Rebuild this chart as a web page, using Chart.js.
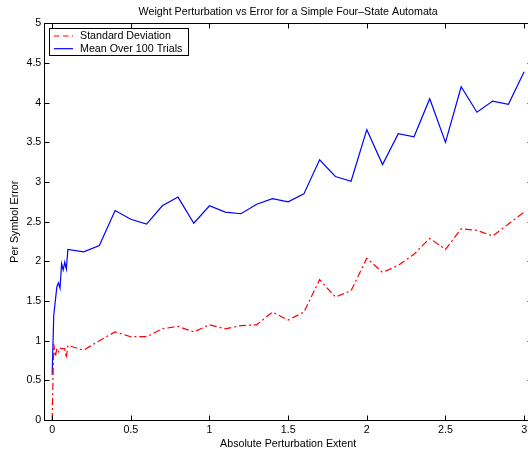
<!DOCTYPE html>
<html>
<head>
<meta charset="utf-8">
<script src="https://cdn.jsdelivr.net/npm/chart.js@4.4.1/dist/chart.umd.min.js"></script>
<style>
html, body { margin: 0; padding: 0; background: #fff; }
#marco { width: 528px; height: 449px; overflow: hidden; }
canvas { display: block; }
</style>
</head>
<body>
<div id="marco"><canvas id="chart" width="536" height="449"></canvas></div>
<script>
// Valores
const perturbacion = [0, 0.01, 0.02, 0.03, 0.04, 0.05, 0.06, 0.07, 0.08, 0.09, 0.1,
    0.2, 0.3, 0.4, 0.5, 0.6, 0.7, 0.8, 0.9, 1.0,
    1.1, 1.2, 1.3, 1.4, 1.5, 1.6, 1.7, 1.8, 1.9, 2.0,
    2.1, 2.2, 2.3, 2.4, 2.5, 2.6, 2.7, 2.8, 2.9, 3.0];
const errorMedio = [0.57, 1.32, 1.50, 1.68, 1.73, 1.66, 1.97, 1.89, 1.99, 1.90, 2.15,
    2.12, 2.20, 2.64, 2.53, 2.47, 2.70, 2.81, 2.48, 2.70,
    2.62, 2.60, 2.72, 2.79, 2.75, 2.85, 3.28, 3.07, 3.01, 3.66,
    3.22, 3.61, 3.57, 4.05, 3.50, 4.20, 3.88, 4.02, 3.98, 4.39];
const desviacion = [0.0, 0.96, 0.80, 0.90, 0.86, 0.91, 0.90, 0.90, 0.90, 0.78, 0.94,
    0.88, 1.00, 1.11, 1.05, 1.05, 1.15, 1.18, 1.11, 1.20,
    1.15, 1.19, 1.20, 1.36, 1.26, 1.36, 1.77, 1.55, 1.63, 2.04,
    1.86, 1.95, 2.09, 2.29, 2.15, 2.41, 2.39, 2.32, 2.47, 2.62];
const ticksX = [0, 0.5, 1, 1.5, 2, 2.5, 3];
const ticksY = [0, 0.5, 1, 1.5, 2, 2.5, 3, 3.5, 4, 4.5, 5];

const fuente = "'Liberation Sans', Arial, Helvetica, sans-serif";
const tamano = 10.7;
const ctx = document.getElementById('chart');

// Caja de ejes con marcas hacia dentro y leyenda (estilo MATLAB)
const marcoEjes = {
    id: 'marcoEjes',
    afterDatasetsDraw(chart) {
        const { ctx: c, chartArea: a, scales: { x, y } } = chart;
        const l = Math.floor(a.left) + 0.5, r = Math.floor(a.right) + 0.5;
        const t = Math.floor(a.top) + 0.5, b = Math.floor(a.bottom) + 0.5;
        c.save();
        c.strokeStyle = '#000';
        c.lineWidth = 1;
        c.setLineDash([]);
        c.strokeRect(l, t, r - l, b - t);
        c.beginPath();
        ticksX.forEach(v => {
            const px = Math.round(x.getPixelForValue(v)) + 0.5;
            c.moveTo(px, b); c.lineTo(px, b - 5);
            c.moveTo(px, t); c.lineTo(px, t + 5);
        });
        ticksY.forEach(v => {
            const py = Math.round(y.getPixelForValue(v)) + 0.5;
            c.moveTo(l, py); c.lineTo(l + 5, py);
            c.moveTo(r, py); c.lineTo(r - 5, py);
        });
        c.stroke();

        // leyenda
        c.font = tamano + 'px ' + fuente;
        const sets = chart.data.datasets;
        const anchoTexto = Math.max(...sets.map(d => c.measureText(d.label).width));
        const lx = l + 5, ly = t + 5;
        const w = Math.round(30.5 + anchoTexto + 6), h = 27;
        c.fillStyle = '#fff';
        c.fillRect(lx, ly, w, h);
        c.strokeRect(lx, ly, w, h);
        sets.forEach((d, i) => {
            const yy = ly + 7.5 + i * 12.7;
            c.strokeStyle = d.borderColor;
            c.lineWidth = d.borderWidth;
            c.setLineDash(d.borderDash ? [5.5, 3.5] : []);
            c.beginPath();
            c.moveTo(lx + 4.5, yy);
            c.lineTo(lx + 23.5, yy);
            c.stroke();
            c.fillStyle = '#000';
            c.textBaseline = 'middle';
            c.fillText(d.label, lx + 30.5, yy + 0.5);
        });
        c.restore();
    }
};

new Chart(ctx, {
    type: 'line',
    data: {
        datasets: [{
            label: 'Standard Deviation',
            data: perturbacion.map((v, i) => ({ x: v, y: desviacion[i] })),
            borderColor: '#ff0000',
            borderWidth: 1.2,
            borderDash: [7, 3, 2, 3],
            pointRadius: 0,
            tension: 0,
            fill: false
        }, {
            label: 'Mean Over 100 Trials',
            data: perturbacion.map((v, i) => ({ x: v, y: errorMedio[i] })),
            borderColor: '#0000ff',
            borderWidth: 1.2,
            pointRadius: 0,
            tension: 0,
            fill: false
        }]
    },
    options: {
        responsive: false,
        animation: false,
        layout: { padding: { left: 0, right: 4, top: 0, bottom: 0 } },
        plugins: {
            legend: { display: false },
            tooltip: { enabled: false },
            title: {
                display: true,
                fullSize: false,
                text: 'Weight Perturbation vs Error for a Simple Four\u2013State Automata',
                color: '#000',
                font: { family: fuente, size: tamano, weight: 'normal' },
                padding: { top: 6, bottom: 4.5 }
            }
        },
        scales: {
            x: {
                type: 'linear',
                min: -0.05,
                max: 3.05,
                afterBuildTicks: s => { s.ticks = ticksX.map(v => ({ value: v })); },
                afterFit: s => { s.height = 29; },
                grid: { display: false, drawTicks: false },
                border: { display: false },
                ticks: {
                    color: '#000',
                    font: { family: fuente, size: tamano },
                    padding: 4,
                    maxRotation: 0,
                    autoSkip: false,
                    callback: v => String(v)
                },
                title: {
                    display: true,
                    text: 'Absolute Perturbation Extent',
                    color: '#000',
                    font: { family: fuente, size: tamano, lineHeight: 1 },
                    padding: 0
                }
            },
            y: {
                min: 0,
                max: 5,
                afterBuildTicks: s => { s.ticks = ticksY.map(v => ({ value: v })); },
                afterFit: s => { s.width = 44.3; },
                grid: { display: false, drawTicks: false },
                border: { display: false },
                ticks: {
                    color: '#000',
                    font: { family: fuente, size: tamano },
                    padding: 3,
                    autoSkip: false,
                    callback: v => String(v)
                },
                title: {
                    display: true,
                    text: 'Per Symbol Error',
                    color: '#000',
                    font: { family: fuente, size: tamano },
                    padding: { top: 9, bottom: 0 }
                }
            }
        }
    },
    plugins: [marcoEjes]
});
</script>
</body>
</html>
